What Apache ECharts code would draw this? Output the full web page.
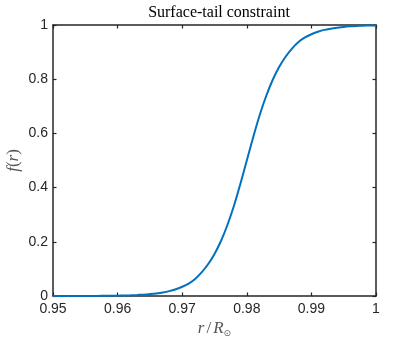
<!DOCTYPE html>
<html>
<head>
<meta charset="utf-8">
<script src="https://cdn.jsdelivr.net/npm/echarts@6/dist/echarts.min.js"></script>
<style>
    html, body { margin: 0; padding: 0; background: #fff; }
    #chart { width: 415px; height: 338px; }
</style>
</head>
<body>
<div id="chart"></div>
<script>
// radius values r/Rsun, every 0.001
const radius = [
    0.950, 0.951, 0.952, 0.953, 0.954, 0.955, 0.956, 0.957, 0.958, 0.959,
    0.960, 0.961, 0.962, 0.963, 0.964, 0.965, 0.966, 0.967, 0.968, 0.969,
    0.970, 0.971, 0.972, 0.973, 0.974, 0.975, 0.976, 0.977, 0.978, 0.979,
    0.980, 0.981, 0.982, 0.983, 0.984, 0.985, 0.986, 0.987, 0.988, 0.989,
    0.990, 0.991, 0.992, 0.993, 0.994, 0.995, 0.996, 0.997, 0.998, 0.999,
    1.000
];
// f(r) at each radius
const fValues = [
    0, 0, 0, 0, 0, 0, 0.0003, 0.0004, 0.0006, 0.0009,
    0.0013, 0.0018, 0.0025, 0.0035, 0.005, 0.007, 0.0095, 0.013, 0.018, 0.025,
    0.034, 0.046, 0.063, 0.087, 0.117, 0.155, 0.203, 0.262, 0.332, 0.413,
    0.500, 0.587, 0.668, 0.738, 0.797, 0.845, 0.883, 0.913, 0.937, 0.954,
    0.966, 0.975, 0.982, 0.9865, 0.990, 0.993, 0.995, 0.9965, 0.9975, 0.998,
    0.9985
];
const xTicks = { min: 0.95, max: 1, step: 0.01 };
const yTicks = { min: 0, max: 1, step: 0.2 };

const axisColor = '#262626';
const nameColor = '#555';
const serif = '"Liberation Serif", "DejaVu Serif", serif';
const sans = '"Liberation Sans", Arial, sans-serif';

const chart = echarts.init(document.getElementById('chart'), null, { renderer: 'canvas' });

// shared look of the box axes (matlab style, ticks inward)
function boxAxis(extra) {
    return Object.assign({
        axisLine: { show: true, onZero: false, lineStyle: { color: axisColor, width: 1.5 } },
        axisTick: { show: true, inside: true, length: 3.5, lineStyle: { color: axisColor, width: 1.2 } },
        splitLine: { show: false },
        axisLabel: { show: false }
    }, extra);
}

const option = {
    animation: false,
    backgroundColor: '#fff',
    title: {
        text: 'Surface-tail constraint',
        left: 214,
        top: 0,
        textAlign: 'center',
        textStyle: { fontFamily: serif, fontWeight: 'normal', fontSize: 16, color: '#000' }
    },
    grid: { left: 53, right: 39, top: 25, bottom: 42, outerBoundsMode: 'none', containLabel: false },
    xAxis: [
        boxAxis({
            type: 'value', position: 'bottom',
            min: xTicks.min, max: xTicks.max, interval: xTicks.step,
            axisLabel: {
                show: true, margin: 6, color: axisColor, fontFamily: sans, fontSize: 14,
                formatter: v => String(+v.toFixed(2))
            },
            name: '{i|r}{n|/}{i|R}{s|⊙}',
            nameLocation: 'middle',
            nameGap: 24,
            nameMoveOverlap: false,
            nameTextStyle: {
                rich: {
                    i: { fontFamily: serif, fontStyle: 'italic', fontSize: 17, color: nameColor },
                    n: { fontFamily: serif, fontSize: 17, color: nameColor, padding: [0, 2, 0, 2] },
                    s: { fontFamily: '"DejaVu Sans", sans-serif', fontSize: 9, color: nameColor, padding: [9, 0, 0, 0] }
                }
            }
        }),
        boxAxis({
            type: 'value', position: 'top',
            min: xTicks.min, max: xTicks.max, interval: xTicks.step
        })
    ],
    yAxis: [
        boxAxis({
            type: 'value', position: 'left',
            min: yTicks.min, max: yTicks.max, interval: yTicks.step,
            axisLabel: {
                show: true, margin: 5, color: axisColor, fontFamily: sans, fontSize: 14,
                formatter: v => String(+v.toFixed(1))
            },
            name: '{i|f}{n|(}{i|r}{n|)}',
            nameLocation: 'middle',
            nameRotate: 90,
            nameGap: 31,
            nameMoveOverlap: false,
            nameTextStyle: {
                rich: {
                    i: { fontFamily: serif, fontStyle: 'italic', fontSize: 17, color: nameColor },
                    n: { fontFamily: serif, fontSize: 17, color: nameColor }
                }
            }
        }),
        boxAxis({
            type: 'value', position: 'right',
            min: yTicks.min, max: yTicks.max, interval: yTicks.step
        })
    ],
    series: [{
        type: 'line',
        data: radius.map((r, i) => [r, fValues[i]]),
        showSymbol: false,
        smooth: 0.3,
        lineStyle: { color: '#0072BD', width: 2 },
        clip: true
    }]
};

chart.setOption(option);
</script>
</body>
</html>
